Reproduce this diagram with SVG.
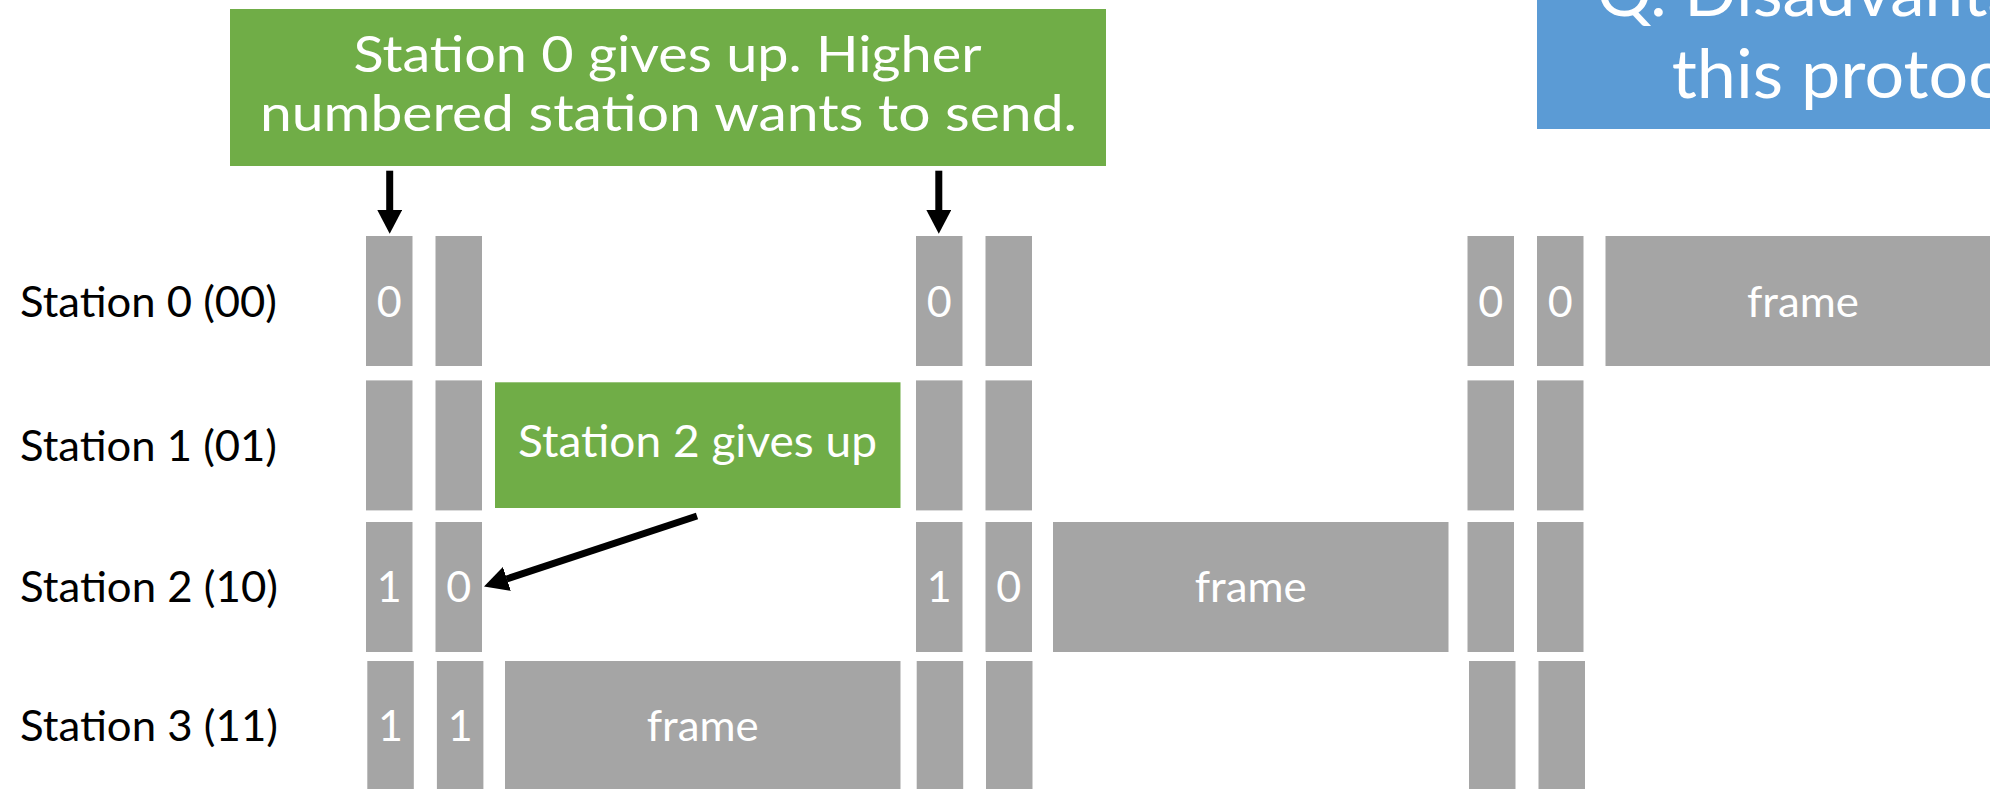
<svg xmlns="http://www.w3.org/2000/svg" width="1990" height="789" viewBox="0 0 1990 789">
<style>
  .lbl{font-family:Lato,"Open Sans",sans-serif;font-size:43px;fill:#000}
  .bit{font-family:Lato,"Open Sans",sans-serif;font-size:43px;fill:#fff;text-anchor:middle}
  .wt{font-family:Lato,"Open Sans",sans-serif;fill:#fff}
  .slot{fill:#A5A5A5}
  .green{fill:#70AD47}
  .blue{fill:#5B9BD5}
  .arr{stroke:#000;stroke-width:7;fill:none;marker-end:url(#ah)}
</style>
<defs>
  <marker id="ah" markerUnits="strokeWidth" markerWidth="3.5" markerHeight="3.6" refX="0.05" refY="1.8" orient="auto" viewBox="0 0 3.5 3.6">
    <path d="M0,0 L3.45,1.8 L0,3.6 z" fill="#000"/>
  </marker>
</defs>
<rect width="1990" height="789" fill="#fff"/>

<g id="question">
  <rect class="blue" x="1537" y="-10" width="470" height="139"/>
  <text class="wt" x="1596.7" y="16" font-size="68" textLength="425" lengthAdjust="spacingAndGlyphs">Q. Disadvanta</text>
  <text class="wt" x="1671.7" y="98.3" font-size="68" textLength="330" lengthAdjust="spacingAndGlyphs">this protoc</text>
</g>

<g id="note-top">
  <rect class="green" x="230" y="9" width="876" height="157"/>
  <text class="wt" x="353.5" y="71.7" font-size="51" textLength="628" lengthAdjust="spacingAndGlyphs">Station 0 gives up. Higher</text>
  <text class="wt" x="260" y="131" font-size="51" textLength="817" lengthAdjust="spacingAndGlyphs">numbered station wants to send.</text>
</g>

<g id="labels">
  <text class="lbl" x="20" y="316.7" textLength="257" lengthAdjust="spacingAndGlyphs">Station 0 (00)</text>
  <text class="lbl" x="20" y="460.5" textLength="257" lengthAdjust="spacingAndGlyphs">Station 1 (01)</text>
  <text class="lbl" x="20" y="602" textLength="258" lengthAdjust="spacingAndGlyphs">Station 2 (10)</text>
  <text class="lbl" x="20" y="741" textLength="258" lengthAdjust="spacingAndGlyphs">Station 3 (11)</text>
</g>

<g id="station0">
  <rect class="slot" x="366" y="236" width="46.5" height="130"/>
  <text class="bit" x="389.3" y="316.7">0</text>
  <rect class="slot" x="435.5" y="236" width="46.5" height="130"/>
  <rect class="slot" x="916" y="236" width="46.5" height="130"/>
  <text class="bit" x="939.3" y="316.7">0</text>
  <rect class="slot" x="985.5" y="236" width="46.5" height="130"/>
  <rect class="slot" x="1467.5" y="236" width="46.5" height="130"/>
  <text class="bit" x="1490.8" y="316.7">0</text>
  <rect class="slot" x="1537" y="236" width="46.5" height="130"/>
  <text class="bit" x="1560.3" y="316.7">0</text>
  <rect class="slot" x="1605.5" y="236" width="400" height="130"/>
  <text class="bit" x="1803" y="316.7" textLength="112" lengthAdjust="spacingAndGlyphs">frame</text>
</g>

<g id="station1">
  <rect class="slot" x="366" y="380.4" width="46.5" height="130"/>
  <rect class="slot" x="435.5" y="380.4" width="46.5" height="130"/>
  <rect class="slot" x="916" y="380.4" width="46.5" height="130"/>
  <rect class="slot" x="985.5" y="380.4" width="46.5" height="130"/>
  <rect class="slot" x="1467.5" y="380.4" width="46.5" height="130"/>
  <rect class="slot" x="1537" y="380.4" width="46.5" height="130"/>
</g>

<g id="note-station2">
  <rect class="green" x="495" y="382.3" width="405.5" height="125.7"/>
  <text class="wt" x="697.5" y="457.3" font-size="45" text-anchor="middle" textLength="359" lengthAdjust="spacingAndGlyphs">Station 2 gives up</text>
</g>

<g id="station2">
  <rect class="slot" x="366" y="522" width="46.5" height="130"/>
  <text class="bit" x="389.3" y="602">1</text>
  <rect class="slot" x="435.5" y="522" width="46.5" height="130"/>
  <text class="bit" x="458.8" y="602">0</text>
  <rect class="slot" x="916" y="522" width="46.5" height="130"/>
  <text class="bit" x="939.3" y="602">1</text>
  <rect class="slot" x="985.5" y="522" width="46.5" height="130"/>
  <text class="bit" x="1008.8" y="602">0</text>
  <rect class="slot" x="1053" y="522" width="395.5" height="130"/>
  <text class="bit" x="1250.7" y="602" textLength="112" lengthAdjust="spacingAndGlyphs">frame</text>
  <rect class="slot" x="1467.5" y="522" width="46.5" height="130"/>
  <rect class="slot" x="1537" y="522" width="46.5" height="130"/>
</g>

<g id="station3">
  <rect class="slot" x="367.3" y="661" width="46.5" height="140"/>
  <text class="bit" x="390.6" y="741">1</text>
  <rect class="slot" x="436.9" y="661" width="46.5" height="140"/>
  <text class="bit" x="460.2" y="741">1</text>
  <rect class="slot" x="505" y="661" width="395.5" height="140"/>
  <text class="bit" x="702.7" y="741" textLength="112" lengthAdjust="spacingAndGlyphs">frame</text>
  <rect class="slot" x="916.7" y="661" width="46.5" height="140"/>
  <rect class="slot" x="986" y="661" width="46.5" height="140"/>
  <rect class="slot" x="1469" y="661" width="46.5" height="140"/>
  <rect class="slot" x="1538.5" y="661" width="46.5" height="140"/>
</g>

<g id="connectors">
  <line class="arr" x1="389.7" y1="170.7" x2="389.7" y2="210"/>
  <line class="arr" x1="938.8" y1="170.7" x2="938.8" y2="210"/>
  <line class="arr" x1="697" y1="516" x2="506.6" y2="579"/>
</g>
</svg>
